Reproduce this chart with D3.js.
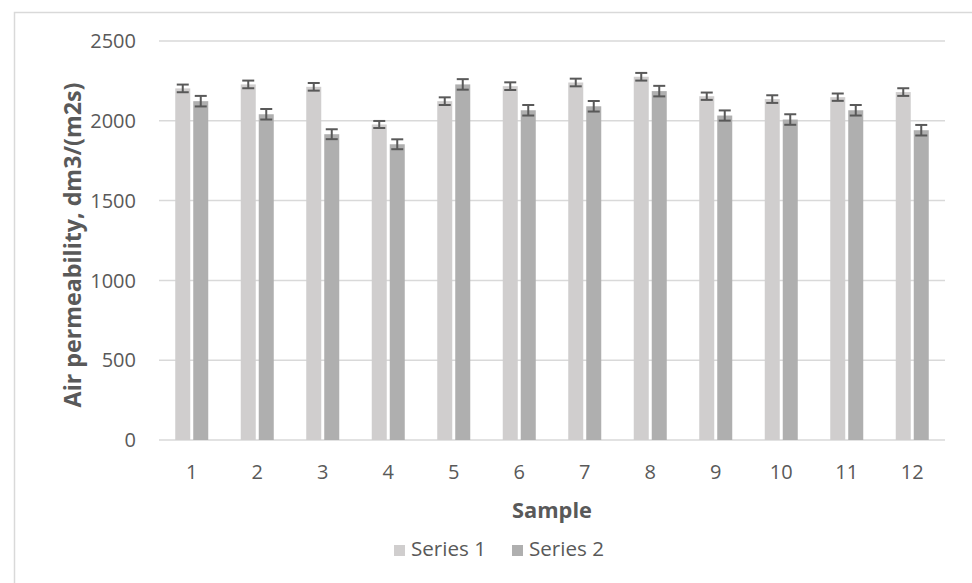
<!DOCTYPE html>
<html><head><meta charset="utf-8">
<script src="https://cdn.jsdelivr.net/npm/d3@7"></script>
<style>body{margin:0;background:#fff}svg{display:block;font-family:"Open Sans",sans-serif}</style>
</head><body>
<svg id="c" width="972" height="583"></svg>
<script>
const categories = ["1","2","3","4","5","6","7","8","9","10","11","12"];
const series1 = [2203, 2228, 2213, 1977, 2123, 2217, 2240, 2276, 2154, 2136, 2148, 2180];
const series2 = [2123, 2041, 1916, 1853, 2228, 2066, 2091, 2186, 2033, 2008, 2066, 1941];
const error1 = [24, 24, 24, 22, 24, 24, 24, 24, 23, 24, 23, 24];
const error2 = [33, 33, 31, 31, 33, 33, 33, 33, 32, 33, 33, 33];
const seriesNames = ["Series 1", "Series 2"];
const yTicks = [0, 500, 1000, 1500, 2000, 2500];
const colors = ["#d0cece", "#afafaf"];

(function(){
const svg = d3.select("#c");
svg.append("rect").attr("x",14.5).attr("y",12.5).attr("width",1000).attr("height",1000)
  .attr("fill","none").attr("stroke","#d9d9d9").attr("stroke-width",1.5);

const pL=159, pR=945, pT=41, pB=440;
const x = d3.scaleBand().domain(categories).range([pL,pR]).paddingInner(0).paddingOuter(0);
const y = d3.scaleLinear().domain([0,2500]).range([pB,pT]);
const bw = 15, gap = 3;
const fitSize = (sel, base, target) => { const w = sel.node().getComputedTextLength(); sel.attr("font-size", base*target/w); };

svg.append("g").selectAll("line").data(yTicks).join("line")
  .attr("x1",pL).attr("x2",pR).attr("y1",d=>y(d)).attr("y2",d=>y(d))
  .attr("stroke","#d9d9d9").attr("stroke-width",1.5);

const tickFs = 20;
svg.append("g").selectAll("text").data(yTicks).join("text")
  .attr("x",136).attr("y",d=>y(d)).attr("dy","0.36em").attr("text-anchor","end")
  .attr("fill","#595959").attr("font-size",tickFs).text(d=>d);

svg.append("g").selectAll("text").data(categories).join("text")
  .attr("x",d=>x(d)+x.bandwidth()/2).attr("y",479).attr("text-anchor","middle")
  .attr("fill","#595959").attr("font-size",tickFs).text(d=>d);

const all = [series1, series2];
const errs = [error1, error2];
all.forEach((vals,si)=>{
  const off = si===0 ? -(bw+gap/2) : gap/2;
  svg.append("g").selectAll("rect").data(vals).join("rect")
    .attr("x",(d,i)=>x(categories[i])+x.bandwidth()/2+off)
    .attr("y",d=>y(d)).attr("width",bw).attr("height",d=>pB-y(d))
    .attr("fill",colors[si]);
  const eg = svg.append("g").attr("stroke","#595959").attr("stroke-width",2).attr("fill","none");
  vals.forEach((d,i)=>{
    const cx = x(categories[i])+x.bandwidth()/2+off+bw/2;
    const e = errs[si][i];
    eg.append("line").attr("x1",cx).attr("x2",cx).attr("y1",y(d+e)).attr("y2",y(d-e));
    eg.append("line").attr("x1",cx-6).attr("x2",cx+6).attr("y1",y(d+e)).attr("y2",y(d+e));
    eg.append("line").attr("x1",cx-6).attr("x2",cx+6).attr("y1",y(d-e)).attr("y2",y(d-e));
  });
});

const yt = svg.append("text").attr("transform","translate(81,245) rotate(-90)")
  .attr("text-anchor","middle").attr("font-weight","bold").attr("font-size",18)
  .attr("fill","#595959").text("Air permeability, dm3/(m2s)");
fitSize(yt, 18, 325);

const xt = svg.append("text").attr("x",552).attr("y",518).attr("text-anchor","middle")
  .attr("font-weight","bold").attr("font-size",18).attr("fill","#595959").text("Sample");
fitSize(xt, 18, 80);

const legX = [394, 512];
seriesNames.forEach((n,i)=>{
  svg.append("rect").attr("x",legX[i]).attr("y",545).attr("width",11).attr("height",11).attr("fill",colors[i]);
  const t = svg.append("text").attr("x",legX[i]+17).attr("y",556).attr("font-size",18).attr("fill","#595959").text(n);
  fitSize(t, 18, 75);
});
})();
</script>
</body></html>
